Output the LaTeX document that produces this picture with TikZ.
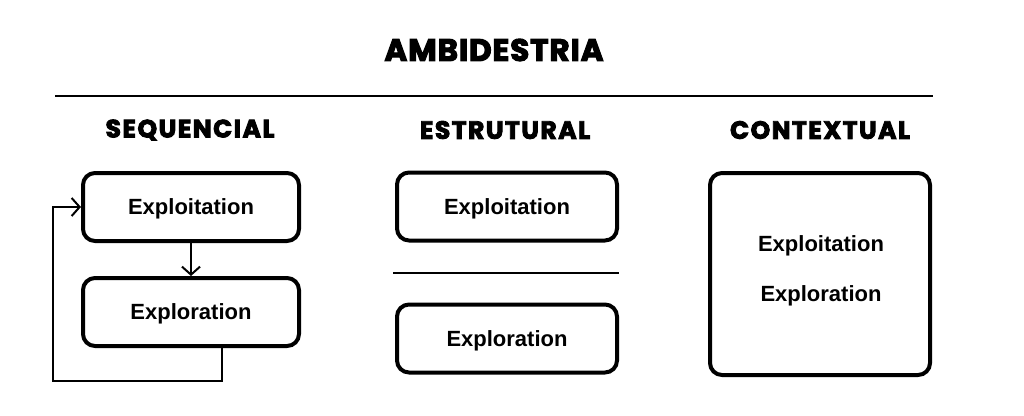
\documentclass[tikz,border=0pt]{standalone}
\usepackage{fontspec}
\setmainfont{Liberation Sans}
\newfontfamily\headfont[BoldFeatures={FakeBold=3.5}]{Poppins}
\usetikzlibrary{arrows.meta}
\tikzset{
  box/.style={draw=black, line width=4pt, rounded corners=12pt, minimum width=216pt, minimum height=68pt, inner sep=0pt, text depth=0pt, font=\bfseries\fontsize{22}{26}\selectfont},
  wbox/.style={box, minimum width=220pt},
  heading/.style={font=\headfont\bfseries\fontsize{25}{29}\selectfont\addfontfeature{LetterSpace=6}, inner sep=0pt},
  title/.style={font=\headfont\bfseries\fontsize{31}{35}\selectfont\addfontfeature{LetterSpace=3}, inner sep=0pt},
  plain/.style={font=\bfseries\fontsize{22}{26}\selectfont, inner sep=0pt, text depth=0pt},
  conn/.style={line width=2pt, -{Straight Barb[length=8pt,width=18pt,line width=2pt]}},
  rule/.style={line width=2.5pt}
}
\begin{document}
\begin{tikzpicture}[x=1pt,y=-1pt]
\useasboundingbox (0,0) rectangle (1024,415);
\node[title] (t) at (494,50) {AMBIDESTRIA};
\coordinate (r1) at (55,96);
\coordinate (r2) at (933,96);
\draw[rule] (r1) -- (r2);
\node[heading] (h1) at (190,130) {SEQUENCIAL};
\node[heading] (h2) at (505,130) {ESTRUTURAL};
\node[heading] (h3) at (820,130) {CONTEXTUAL};
% sequencial
\node[box] (s1) at (191,207) {Exploitation};
\node[box] (s2) at (191,312) {Exploration};
\draw[conn] (s1) -- (s2);
\coordinate (l0) at (222,346);
\coordinate (l1) at (222,381);
\coordinate (l2) at (53,381);
\coordinate (l3) at (53,207);
\draw[conn] (s2.south -| l0) -- (l1) -- (l2) -- (l3) -- (s1.west);
% estrutural
\node[wbox] (e1) at (507,206.5) {Exploitation};
\node[wbox] (e2) at (507,338.5) {Exploration};
\coordinate (d1) at (393,273);
\coordinate (d2) at (619,273);
\draw[line width=2pt] (d1) -- (d2);
% contextual
\node[wbox, minimum height=202pt] (c) at (820,274) {};
\node[plain] (c1) at (821,244) {Exploitation};
\node[plain] (c2) at (821,294) {Exploration};
\end{tikzpicture}
\end{document}
